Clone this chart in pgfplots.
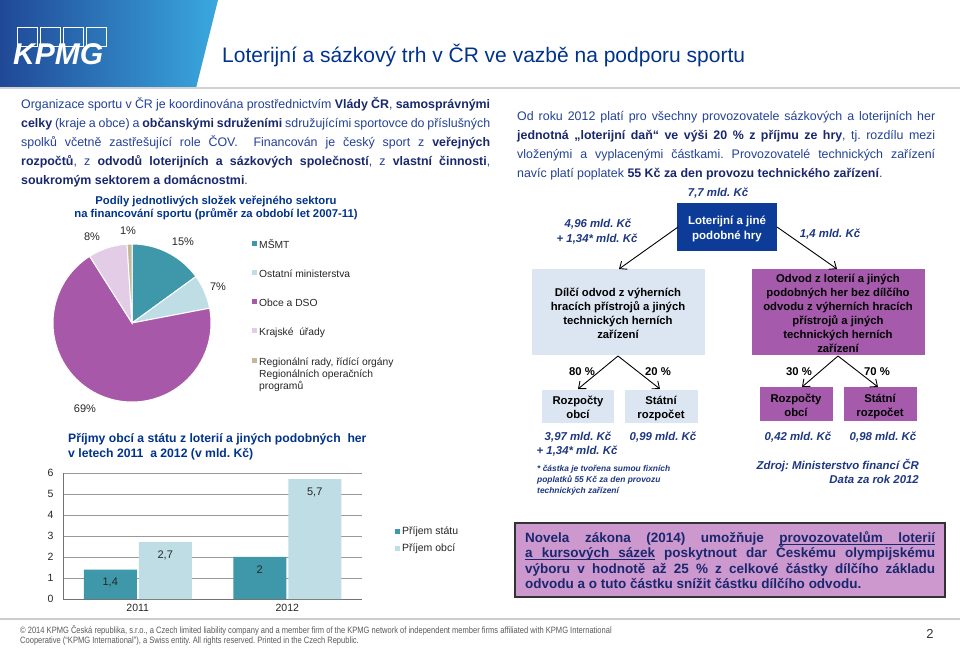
\documentclass[border=0pt]{standalone}
\usepackage{pgfplots}
\pgfplotsset{compat=1.18}
\usepackage{fontspec}
\setmainfont{Liberation Sans}
\newfontfamily\narrowfont[FakeStretch=0.82]{Liberation Sans}
\usetikzlibrary{arrows.meta}
\definecolor{kblue}{RGB}{0,51,141}
\definecolor{txtblue}{RGB}{35,65,150}
\definecolor{boldblue}{RGB}{25,40,110}
\definecolor{amtblue}{RGB}{30,55,130}
\definecolor{gradL}{RGB}{32,72,150}
\definecolor{gradR}{RGB}{58,168,222}
\definecolor{cteal}{RGB}{62,152,170}
\definecolor{clight}{RGB}{190,221,228}
\definecolor{cpurple}{RGB}{167,88,168}
\definecolor{cpink}{RGB}{227,205,230}
\definecolor{ctan}{RGB}{196,184,152}
\definecolor{boxdark}{RGB}{12,60,152}
\definecolor{boxlight}{RGB}{220,230,242}
\definecolor{boxpurple}{RGB}{165,90,172}
\definecolor{boxmauve}{RGB}{204,152,206}
\definecolor{footgray}{RGB}{90,90,90}
\newcommand{\B}[1]{{\bfseries\color{boldblue}#1}}
\newcommand{\fs}[1]{\fontsize{#1}{#1}\selectfont}
\newcommand{\ulw}[1]{\setbox0\hbox{#1}\rlap{\rule[-2.6pt]{\wd0}{1pt}}\box0\relax}
\newcommand{\ulsp}{\leaders\hrule height -1.6pt depth 2.6pt\hskip\fontdimen2\font plus \fontdimen3\font minus \fontdimen4\font\relax}
\frenchspacing
\begin{document}
\begin{tikzpicture}
\path[use as bounding box] (0,0) rectangle (960pt,-648pt);
\fill[white] (0,0) rectangle (960pt,-648pt);
\begin{scope}[x=1pt,y=-1pt]
% header
\shade[left color=gradL, right color=gradR] (0,0) -- (218,0) -- (196,88) -- (0,88) -- cycle;
\fill[gray!35] (0,87) rectangle (960,89);
\foreach \i in {0,1,2,3} {\draw[white, line width=0.8pt] (17+\i*23,27) rectangle (37+\i*23,46);}
\node[anchor=base west, inner sep=0, text=white, font=\fs{30}\bfseries\itshape] at (13,64) {KPMG};
\node[anchor=base west, inner sep=0, text=kblue, font=\fs{21}] at (222,62) {Loterijní a sázkový trh v ČR ve vazbě na podporu sportu};
% left paragraph
\begin{scope}[every node/.style={anchor=base west, inner sep=0, text=txtblue, font=\fs{12.4}}]
\node at (21,108) {\makebox[469pt][s]{Organizace sportu v ČR je koordinována prostřednictvím \B{Vlády ČR}, \B{samosprávnými}}};
\node at (21,127) {\makebox[469pt][s]{\B{celky} (kraje a obce) a \B{občanskými sdruženími} sdružujícími sportovce do příslušných}};
\node at (21,146) {\makebox[469pt][s]{spolků včetně zastřešující role ČOV. \ Financován je český sport z \B{veřejných}}};
\node at (21,165) {\makebox[469pt][s]{\B{rozpočtů}, z \B{odvodů loterijních a sázkových společností}, z \B{vlastní činnosti},}};
\node at (21,184) {\B{soukromým sektorem a domácnostmi}.};
% right paragraph
\node at (517,120) {\makebox[418pt][s]{Od roku 2012 platí pro všechny provozovatele sázkových a loterijních her}};
\node at (517,139) {\makebox[418pt][s]{\B{jednotná „loterijní daň“ ve výši 20 \% z příjmu ze hry}, tj. rozdílu mezi}};
\node at (517,158) {\makebox[418pt][s]{vloženými a vyplacenými částkami. Provozovatelé technických zařízení}};
\node at (517,177) {navíc platí poplatek \B{55 Kč za den provozu technického zařízení}.};
\end{scope}
% pie title
\node[anchor=base, inner sep=0, text=kblue, font=\fs{11.3}\bfseries] at (216,204) {Podíly jednotlivých složek veřejného sektoru};
\node[anchor=base, inner sep=0, text=kblue, font=\fs{11.3}\bfseries] at (216,217) {na financování sportu (průměr za období let 2007-11)};
% pie labels
\begin{scope}[every node/.style={anchor=base, inner sep=0, text=black!85, font=\fs{11}}]
\node at (92,240) {8\%};
\node at (128,234) {1\%};
\node at (183,245) {15\%};
\node at (218,290) {7\%};
\node at (85,412) {69\%};
\end{scope}
% pie legend
\begin{scope}[every node/.style={anchor=base west, inner sep=0, text=black!85, font=\fs{10.3}}]
\fill[cteal] (252,241) rectangle (257,246); \node at (259,248) {MŠMT};
\fill[clight] (252,270) rectangle (257,275); \node at (259,277) {Ostatní ministerstva};
\fill[cpurple] (252,299) rectangle (257,304); \node at (259,306) {Obce a DSO};
\fill[cpink] (252,328) rectangle (257,333); \node at (259,335) {Krajské \ úřady};
\fill[ctan] (252,358) rectangle (257,363); \node at (259,365) {Regionální rady, řídící orgány};
\node at (259,377) {Regionálních operačních};
\node at (259,389) {programů};
\end{scope}
% bar title
\node[anchor=base west, inner sep=0, text=kblue, font=\fs{12.2}\bfseries] at (68,442) {Příjmy obcí a státu z loterií a jiných podobných \ her};
\node[anchor=base west, inner sep=0, text=kblue, font=\fs{12.2}\bfseries] at (68,457) {v letech 2011 \ a 2012 (v mld. Kč)};
% right diagram
\begin{scope}[every node/.style={anchor=base, inner sep=0, text=amtblue, font=\fs{11.4}\bfseries\itshape}]
\node at (718,196) {7,7 mld. Kč};
\node at (598,227) {4,96 mld. Kč};
\node at (597,242) {+ 1,34* mld. Kč};
\node at (830,237) {1,4 mld. Kč};
\node at (578,440) {3,97 mld. Kč};
\node at (577,454) {+ 1,34* mld. Kč};
\node at (663,440) {0,99 mld. Kč};
\node at (798,440) {0,42 mld. Kč};
\node at (883,440) {0,98 mld. Kč};
\node[anchor=base east] at (919,469) {Zdroj: Ministerstvo financí ČR};
\node[anchor=base east] at (919,483) {Data za rok 2012};
\end{scope}
\begin{scope}[every node/.style={anchor=base west, inner sep=0, text=amtblue, font=\fs{8.4}\bfseries\itshape}]
\node at (537,471) {* částka je tvořena sumou fixních};
\node at (537,482) {poplatků 55 Kč za den provozu};
\node at (537,493) {technických zařízení};
\end{scope}
\fill[boxdark] (677,203) rectangle (777,251);
\begin{scope}[every node/.style={anchor=base, inner sep=0, text=white, font=\fs{11.5}\bfseries}]
\node at (727,224) {Loterijní a jiné};
\node at (727,239) {podobné hry};
\end{scope}
\fill[boxlight] (532,269) rectangle (705,355);
\fill[boxpurple] (752,269) rectangle (925,355);
\begin{scope}[every node/.style={anchor=base, inner sep=0, text=black, font=\fs{11.3}\bfseries}]
\node at (618,296) {Dílčí odvod z výherních};
\node at (618,310) {hracích přístrojů a jiných};
\node at (618,324) {technických herních};
\node at (618,338) {zařízení};
\node at (838,282) {Odvod z loterií a jiných};
\node at (838,296) {podobných her bez dílčího};
\node at (838,310) {odvodu z výherních hracích};
\node at (838,324) {přístrojů a jiných};
\node at (838,338) {technických herních};
\node at (838,352) {zařízení};
\end{scope}
\fill[boxlight] (542,390) rectangle (614,423);
\fill[boxlight] (625,390) rectangle (698,423);
\fill[boxpurple] (760,387) rectangle (833,421);
\fill[boxpurple] (844,387) rectangle (917,421);
\begin{scope}[every node/.style={anchor=base, inner sep=0, text=black, font=\fs{11.3}\bfseries}]
\node at (578,404) {Rozpočty};
\node at (578,418) {obcí};
\node at (661,404) {Státní};
\node at (661,418) {rozpočet};
\node at (796,402) {Rozpočty};
\node at (796,416) {obcí};
\node at (880,402) {Státní};
\node at (880,416) {rozpočet};
\node at (582,375) {80 \%};
\node at (658,375) {20 \%};
\node at (799,375) {30 \%};
\node at (877,375) {70 \%};
\end{scope}
\begin{scope}[line width=0.9pt, -{Straight Barb[length=6pt,width=10pt]}]
\draw (678,227) -- (619,269);
\draw (777,227) -- (837,269);
\draw (618,356) -- (578,389);
\draw (618,356) -- (660,389);
\draw (838,356) -- (802,387);
\draw (838,356) -- (878,387);
\end{scope}
% bottom box
\fill[boxmauve] (515,523) rectangle (945,597);
\draw[black!80, line width=1.2pt] (515,523) rectangle (945,597);
\begin{scope}[every node/.style={anchor=base west, inner sep=0, text=boldblue, font=\fs{13.5}\bfseries}]
\node at (525,542) {\makebox[410pt][s]{Novela zákona (2014) umožňuje \ulw{provozovatelům}\ulsp\ulw{loterií}}};
\node at (525,557.5) {\makebox[410pt][s]{\ulw{a}\ulsp\ulw{kursových}\ulsp\ulw{sázek} poskytnout dar Českému olympijskému}};
\node at (525,573) {\makebox[410pt][s]{výboru v hodnotě až 25 \% z celkové částky dílčího základu}};
\node at (525,588) {odvodu a o tuto částku snížit částku dílčího odvodu.};
\end{scope}
% footer
\fill[gray!40] (0,618) rectangle (960,619.5);
\node[anchor=base west, inner sep=0, text=footgray, font=\narrowfont\fs{9.2}] at (20,633) {© 2014 KPMG Česká republika, s.r.o., a Czech limited liability company and a member firm of the KPMG network of independent member firms affiliated with KPMG International};
\node[anchor=base west, inner sep=0, text=footgray, font=\narrowfont\fs{9.2}] at (20,643.5) {Cooperative (“KPMG International”), a Swiss entity. All rights reserved. Printed in the Czech Republic.};
\node[anchor=base, inner sep=0, text=black!80, font=\fs{13}] at (930,638) {2};
\end{scope}
% pie chart
\begin{axis}[at={(132pt,-323pt)}, anchor=center, width=158pt, height=158pt, scale only axis,
  xmin=-1, xmax=1, ymin=-1, ymax=1, hide axis, clip=false]
\addplot[fill=cteal, draw=white, line width=1pt, domain=90:36, samples=40] ({cos(x)},{sin(x)}) -- (axis cs:0,0) -- cycle;
\addplot[fill=clight, draw=white, line width=1pt, domain=36:10.8, samples=20] ({cos(x)},{sin(x)}) -- (axis cs:0,0) -- cycle;
\addplot[fill=cpurple, draw=white, line width=1pt, domain=10.8:-237.6, samples=120] ({cos(x)},{sin(x)}) -- (axis cs:0,0) -- cycle;
\addplot[fill=cpink, draw=white, line width=1pt, domain=-237.6:-266.4, samples=20] ({cos(x)},{sin(x)}) -- (axis cs:0,0) -- cycle;
\addplot[fill=ctan, draw=white, line width=1pt, domain=-266.4:-270, samples=5] ({cos(x)},{sin(x)}) -- (axis cs:0,0) -- cycle;
\end{axis}
% bar chart
\begin{axis}[at={(63pt,-599pt)}, anchor=south west, width=299pt, height=126.3pt, scale only axis,
  ymin=0, ymax=6, xmin=-0.5, xmax=1.5, ytick={0,1,2,3,4,5,6}, xtick={0,1}, xticklabels={2011,2012},
  axis x line*=bottom, axis y line*=left, axis line style={-, draw=black!55},
  ymajorgrids, grid style={black!40}, major tick length=0pt,
  /pgf/number format/assume math mode=true,
  tick label style={font=\fs{10.5}, text=black!85},
  yticklabel style={xshift=-6pt}, xticklabel style={yshift=-2pt},
  ybar=2pt, bar width=53pt,
  nodes near coords, /pgf/number format/use comma,
  every node near coord/.append style={anchor=north, yshift=-5pt, font=\fs{11}, text=black!85},
  legend style={at={(rel axis cs:1.1,0.47)}, anchor=west, draw=none, fill=none, font=\fs{10.5}, row sep=4pt, text=black!85},
  legend cell align=left,
  legend image code/.code={\fill[#1] (0pt,-2.5pt) rectangle (5pt,2.5pt);}]
\addplot[fill=cteal, draw=none] coordinates {(0,1.4) (1,2)};
\addplot[fill=clight, draw=none] coordinates {(0,2.7) (1,5.7)};
\legend{Příjem státu, Příjem obcí}
\end{axis}
\end{tikzpicture}
\end{document}
